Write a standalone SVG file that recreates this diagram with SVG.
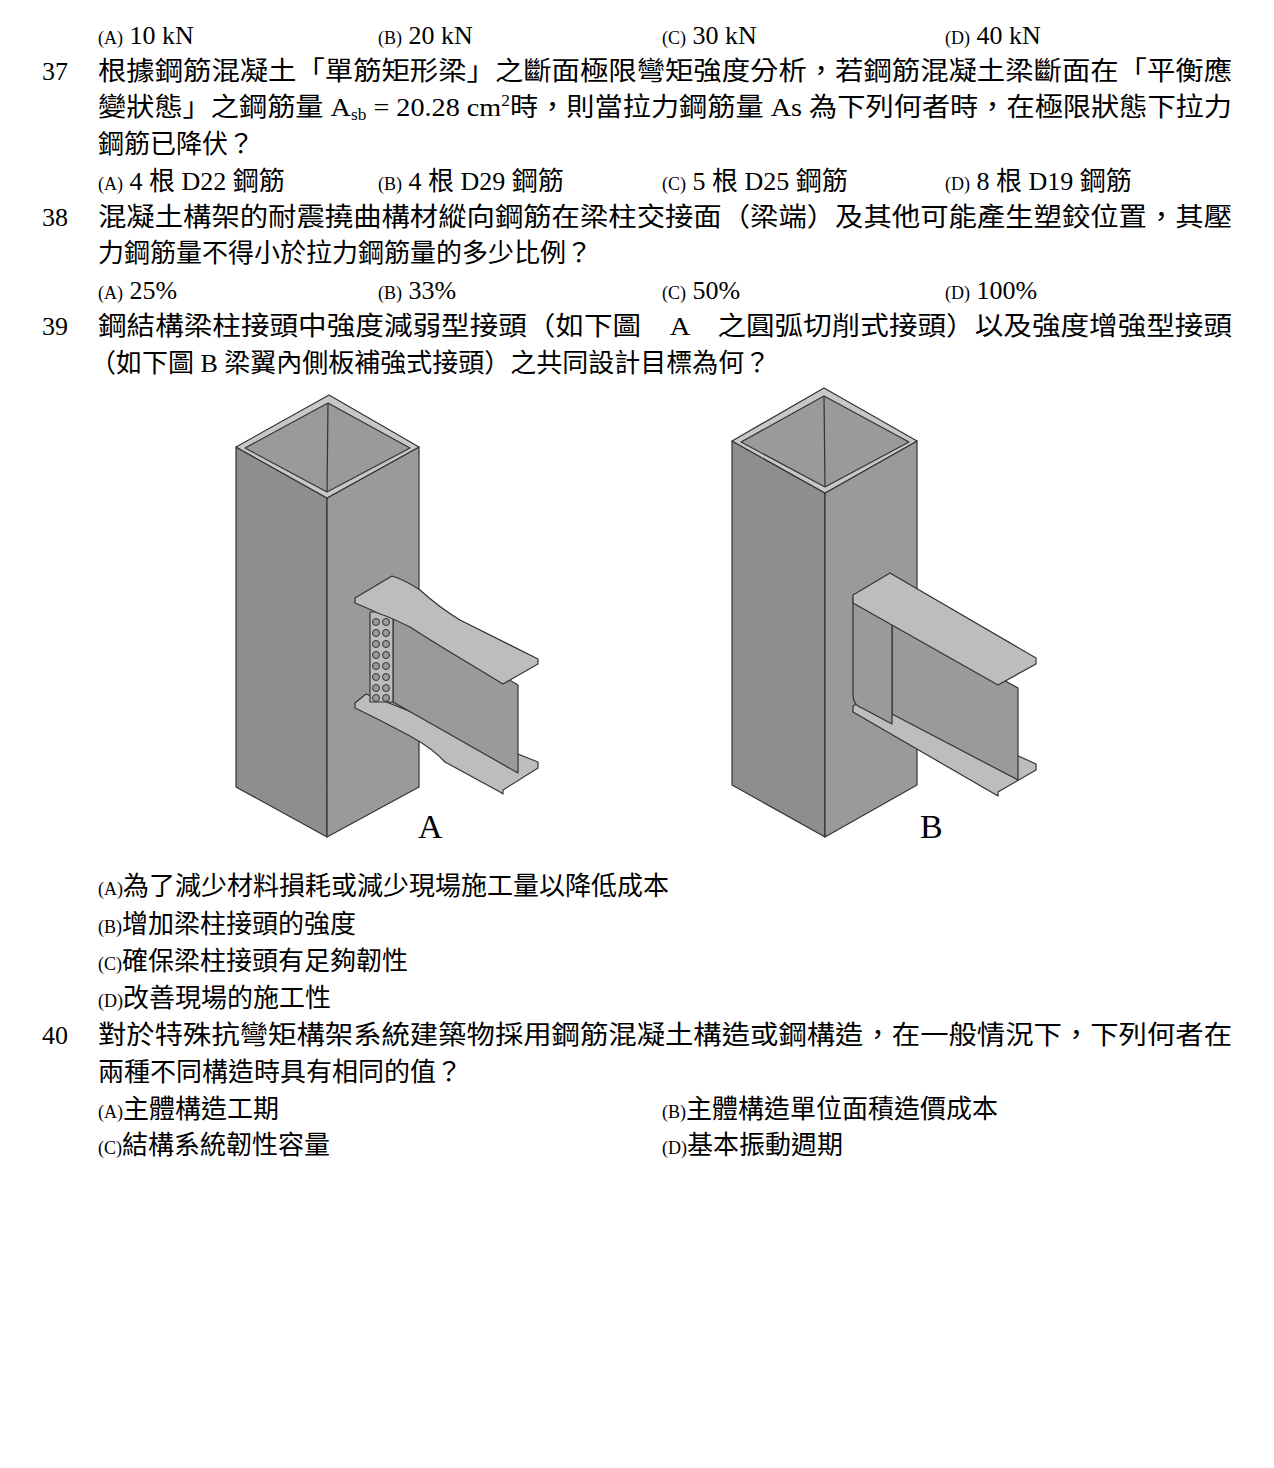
<svg xmlns="http://www.w3.org/2000/svg" width="1274" height="1468" viewBox="0 0 1274 1468">
<style>
text{font-family:"Liberation Serif","Noto Sans CJK TC",serif;font-size:26px;fill:#000}
.o{font-size:18px}
.big{font-size:34px}
.s{stroke:#333;stroke-width:1.2;stroke-linejoin:round}
.dk{fill:#8e8e8e}.md{fill:#9a9a9a}.lt{fill:#bdbdbd}.rim{fill:#c8c8c8}
</style>
<rect width="1274" height="1468" fill="#fff"/>
<g id="q36opts">
<text x="98" y="44"><tspan class="o">(A)</tspan> 10 kN</text>
<text x="378" y="44"><tspan class="o">(B)</tspan> 20 kN</text>
<text x="662" y="44"><tspan class="o">(C)</tspan> 30 kN</text>
<text x="945" y="44"><tspan class="o">(D)</tspan> 40 kN</text>
</g>
<g id="q37">
<text x="42" y="80">37</text>
<text x="98" y="80" textLength="1134" lengthAdjust="spacingAndGlyphs">根據鋼筋混凝土「單筋矩形梁」之斷面極限彎矩強度分析，若鋼筋混凝土梁斷面在「平衡應</text>
<text x="98" y="116" textLength="1134" lengthAdjust="spacingAndGlyphs">變狀態」之鋼筋量 A<tspan font-size="16" dy="4">sb</tspan><tspan dy="-4"> = 20.28 cm</tspan><tspan font-size="16" dy="-10">2</tspan><tspan dy="10">時，則當拉力鋼筋量 As 為下列何者時，在極限狀態下拉力</tspan></text>
<text x="98" y="153">鋼筋已降伏？</text>
<text x="98" y="190"><tspan class="o">(A)</tspan> 4 根 D22 鋼筋</text>
<text x="378" y="190"><tspan class="o">(B)</tspan> 4 根 D29 鋼筋</text>
<text x="662" y="190"><tspan class="o">(C)</tspan> 5 根 D25 鋼筋</text>
<text x="945" y="190"><tspan class="o">(D)</tspan> 8 根 D19 鋼筋</text>
</g>
<g id="q38">
<text x="42" y="226">38</text>
<text x="98" y="226" textLength="1134" lengthAdjust="spacingAndGlyphs">混凝土構架的耐震撓曲構材縱向鋼筋在梁柱交接面（梁端）及其他可能產生塑鉸位置，其壓</text>
<text x="98" y="262">力鋼筋量不得小於拉力鋼筋量的多少比例？</text>
<text x="98" y="299"><tspan class="o">(A)</tspan> 25%</text>
<text x="378" y="299"><tspan class="o">(B)</tspan> 33%</text>
<text x="662" y="299"><tspan class="o">(C)</tspan> 50%</text>
<text x="945" y="299"><tspan class="o">(D)</tspan> 100%</text>
</g>
<g id="q39">
<text x="42" y="335">39</text>
<text x="98" y="335" textLength="1134" lengthAdjust="spacingAndGlyphs">鋼結構梁柱接頭中強度減弱型接頭（如下圖　A　之圓弧切削式接頭）以及強度增強型接頭</text>
<text x="90" y="372">（如下圖 B 梁翼內側板補強式接頭）之共同設計目標為何？</text>
</g>
<g id="figA">
<polygon class="s dk" points="236,447 327,498 327,837 236,787"/>
<polygon class="s md" points="327,498 419,447 419,787 327,837"/>
<polygon class="s rim" points="329,395 419,447 327,498 236,447"/>
<polygon class="s md" points="328,403 410,448 327,492 245,448"/>
<line class="s" x1="328" y1="403" x2="327" y2="492"/>
<path class="s lt" d="M355,703 L366,694 L538,762 L538,768 L503,790 L503,794 L500,792 L445,762 Q432,748 410,736 Q380,720 355,708 Z"/>
<polygon class="s md" points="393,612 518,685 518,773 393,702"/>
<rect class="s lt" x="370" y="612" width="23" height="90"/>
<g fill="#9a9a9a" stroke="#333" stroke-width="1">
<circle cx="376" cy="622" r="3.5"/><circle cx="386" cy="622" r="3.5"/>
<circle cx="376" cy="633" r="3.5"/><circle cx="386" cy="633" r="3.5"/>
<circle cx="376" cy="644" r="3.5"/><circle cx="386" cy="644" r="3.5"/>
<circle cx="376" cy="655" r="3.5"/><circle cx="386" cy="655" r="3.5"/>
<circle cx="376" cy="666" r="3.5"/><circle cx="386" cy="666" r="3.5"/>
<circle cx="376" cy="677" r="3.5"/><circle cx="386" cy="677" r="3.5"/>
<circle cx="376" cy="688" r="3.5"/><circle cx="386" cy="688" r="3.5"/>
<circle cx="376" cy="698" r="3.5"/><circle cx="386" cy="698" r="3.5"/>
</g>
<path class="s lt" d="M355,598 L392,576 Q405,580 420,590 Q440,608 460,620 L538,659 L538,664 L503,684 L450,652 Q430,640 410,627 Q385,615 380,614 Q365,607 355,603 Z"/>
<text x="418" y="838" class="big">A</text>
</g>
<g id="figB">
<polygon class="s dk" points="732,441 825,493 825,837 732,785"/>
<polygon class="s md" points="825,493 917,441 917,785 825,837"/>
<polygon class="s rim" points="824,388 917,441 825,493 732,441"/>
<polygon class="s md" points="824,396 909,442 825,487 741,442"/>
<line class="s" x1="824" y1="396" x2="825" y2="487"/>
<polygon class="s lt" points="853,706 878,692 1036,764 1036,770 998,792 998,796 853,712"/>
<polygon class="s md" points="892,620 1018,688 1018,780 892,714"/>
<path class="s md" d="M853,598 L892,620 L892,724 L862,708 Q853,705 853,695 Z"/>
<polygon class="s lt" points="853,595 890,573 1036,658 1036,664 998,685 853,603"/>
<text x="920" y="838" class="big">B</text>
</g>
<g id="q39opts">
<text x="98" y="895"><tspan class="o">(A)</tspan>為了減少材料損耗或減少現場施工量以降低成本</text>
<text x="98" y="933"><tspan class="o">(B)</tspan>增加梁柱接頭的強度</text>
<text x="98" y="970"><tspan class="o">(C)</tspan>確保梁柱接頭有足夠韌性</text>
<text x="98" y="1007"><tspan class="o">(D)</tspan>改善現場的施工性</text>
</g>
<g id="q40">
<text x="42" y="1044">40</text>
<text x="98" y="1044" textLength="1134" lengthAdjust="spacingAndGlyphs">對於特殊抗彎矩構架系統建築物採用鋼筋混凝土構造或鋼構造，在一般情況下，下列何者在</text>
<text x="98" y="1081">兩種不同構造時具有相同的值？</text>
<text x="98" y="1118"><tspan class="o">(A)</tspan>主體構造工期</text>
<text x="662" y="1118"><tspan class="o">(B)</tspan>主體構造單位面積造價成本</text>
<text x="98" y="1154"><tspan class="o">(C)</tspan>結構系統韌性容量</text>
<text x="662" y="1154"><tspan class="o">(D)</tspan>基本振動週期</text>
</g>
</svg>
